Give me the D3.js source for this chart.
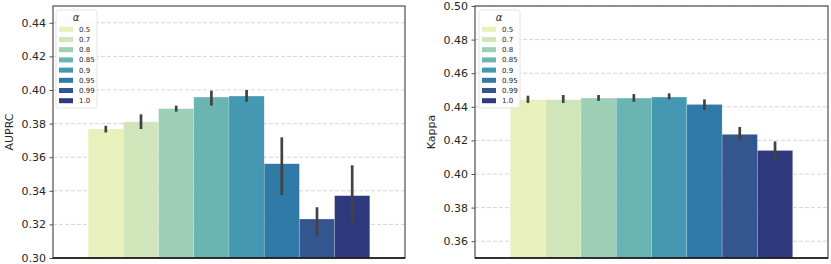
<!DOCTYPE html>
<html>
<head>
<meta charset="utf-8">
<script src="https://cdn.jsdelivr.net/npm/d3@7"></script>
<style>
  body { margin: 0; background: #fff; }
  text { font-family: "DejaVu Sans", sans-serif; fill: #262626; }
</style>
</head>
<body>
<div id="chart"></div>
<script>
// alpha values (hue levels)
const alphas = ["0.5", "0.7", "0.8", "0.85", "0.9", "0.95", "0.99", "1.0"];

// AUPRC: mean, lower, upper of the error bar
const auprcMean = [0.3768, 0.3811, 0.3889, 0.3958, 0.3964, 0.3561, 0.3232, 0.3371];
const auprcLow  = [0.3747, 0.3768, 0.3871, 0.3907, 0.3930, 0.3375, 0.3133, 0.3206];
const auprcHigh = [0.3787, 0.3855, 0.3907, 0.3996, 0.4000, 0.3718, 0.3302, 0.3552];
const auprcTicks = [0.30, 0.32, 0.34, 0.36, 0.38, 0.40, 0.42, 0.44];

// Kappa
const kappaMean = [0.4442, 0.4442, 0.4452, 0.4452, 0.4458, 0.4414, 0.4236, 0.4140];
const kappaLow  = [0.4423, 0.4423, 0.4435, 0.4430, 0.4444, 0.4381, 0.4200, 0.4079];
const kappaHigh = [0.4466, 0.4470, 0.4470, 0.4476, 0.4480, 0.4444, 0.4280, 0.4194];
const kappaTicks = [0.36, 0.38, 0.40, 0.42, 0.44, 0.46, 0.48, 0.50];

// YlGnBu-like colours (desaturated as seaborn does)
const colors = ["#e8f0bb", "#d0e5b9", "#9ccfb6", "#6ab5b3", "#4498b1", "#2f7aa6", "#33568f", "#2e3a7d"];

const svg = d3.select("#chart").append("svg")
    .attr("width", 831)
    .attr("height", 264);

function panel(opts) {
    const {left, right, top, bottom, domain, ticks, mean, low, high, label, legendX} = opts;

    const g = svg.append("g");

    // x: one category, hue groups take 0.8 of the width
    const x = d3.scaleBand()
        .domain(alphas)
        .range([left + (right - left) * 0.1, right - (right - left) * 0.1])
        .padding(0);
    const y = d3.scaleLinear().domain(domain).range([bottom, top]);

    // Grid
    g.append("g")
        .selectAll("line")
        .data(ticks)
        .join("line")
        .attr("x1", left)
        .attr("x2", right)
        .attr("y1", d => y(d))
        .attr("y2", d => y(d))
        .attr("stroke", "#cccccc")
        .attr("stroke-width", 0.8)
        .attr("stroke-dasharray", "4,2");

    // Bars
    g.append("g")
        .selectAll("rect")
        .data(alphas)
        .join("rect")
        .attr("x", d => x(d))
        .attr("width", x.bandwidth())
        .attr("y", (d, i) => y(mean[i]))
        .attr("height", (d, i) => bottom - y(mean[i]))
        .attr("fill", (d, i) => colors[i])
        .attr("stroke", "#ffffff")
        .attr("stroke-opacity", 0.4)
        .attr("stroke-width", 0.5);

    // Error bars
    g.append("g")
        .selectAll("line")
        .data(alphas)
        .join("line")
        .attr("x1", d => x(d) + x.bandwidth() / 2)
        .attr("x2", d => x(d) + x.bandwidth() / 2)
        .attr("y1", (d, i) => y(low[i]))
        .attr("y2", (d, i) => y(high[i]))
        .attr("stroke", "#424242")
        .attr("stroke-width", 2.7);

    // Y axis
    const yAxis = g.append("g")
        .attr("transform", `translate(${left},0)`)
        .call(d3.axisLeft(y).tickValues(ticks).tickFormat(d3.format(".2f")).tickSizeOuter(0).tickSize(3.5).tickPadding(3.5));
    yAxis.select(".domain").remove();
    yAxis.selectAll(".tick line").attr("stroke", "#262626").attr("stroke-width", 0.8);
    yAxis.selectAll(".tick text").attr("font-size", 11).attr("fill", "#262626");

    // Frame
    g.append("rect")
        .attr("x", left)
        .attr("y", top)
        .attr("width", right - left)
        .attr("height", bottom - top)
        .attr("fill", "none")
        .attr("stroke", "#555555")
        .attr("stroke-width", 1.25);
    g.append("line")
        .attr("x1", left).attr("x2", right)
        .attr("y1", bottom).attr("y2", bottom)
        .attr("stroke", "#111111")
        .attr("stroke-width", 1.5);

    // Y label
    g.append("text")
        .attr("transform", `translate(${left - 40},${(top + bottom) / 2}) rotate(-90)`)
        .attr("text-anchor", "middle")
        .attr("font-size", 11)
        .text(label);

    // Legend
    const lg = g.append("g").attr("transform", `translate(${legendX},${top + 4})`);
    lg.append("rect")
        .attr("width", 41)
        .attr("height", 98)
        .attr("rx", 2)
        .attr("fill", "#ffffff")
        .attr("fill-opacity", 0.8)
        .attr("stroke", "#dddddd")
        .attr("stroke-width", 0.8);
    lg.append("text")
        .attr("x", 20)
        .attr("y", 11)
        .attr("text-anchor", "middle")
        .attr("font-size", 10)
        .attr("font-style", "italic")
        .text("α");
    const rows = lg.selectAll("g.row")
        .data(alphas)
        .join("g")
        .attr("class", "row")
        .attr("transform", (d, i) => `translate(3,${19.3 + i * 10.2})`);
    rows.append("rect")
        .attr("x", 0)
        .attr("y", -2.5)
        .attr("width", 14)
        .attr("height", 5)
        .attr("fill", (d, i) => colors[i]);
    rows.append("text")
        .attr("x", 20)
        .attr("y", 2.5)
        .attr("font-size", 7)
        .text(d => d);
}

panel({
    left: 53, right: 405, top: 6, bottom: 258,
    domain: [0.30, 0.45], ticks: auprcTicks,
    mean: auprcMean, low: auprcLow, high: auprcHigh,
    label: "AUPRC", legendX: 56
});

panel({
    left: 475, right: 828, top: 6, bottom: 258,
    domain: [0.35, 0.50], ticks: kappaTicks,
    mean: kappaMean, low: kappaLow, high: kappaHigh,
    label: "Kappa", legendX: 479
});
</script>
</body>
</html>
